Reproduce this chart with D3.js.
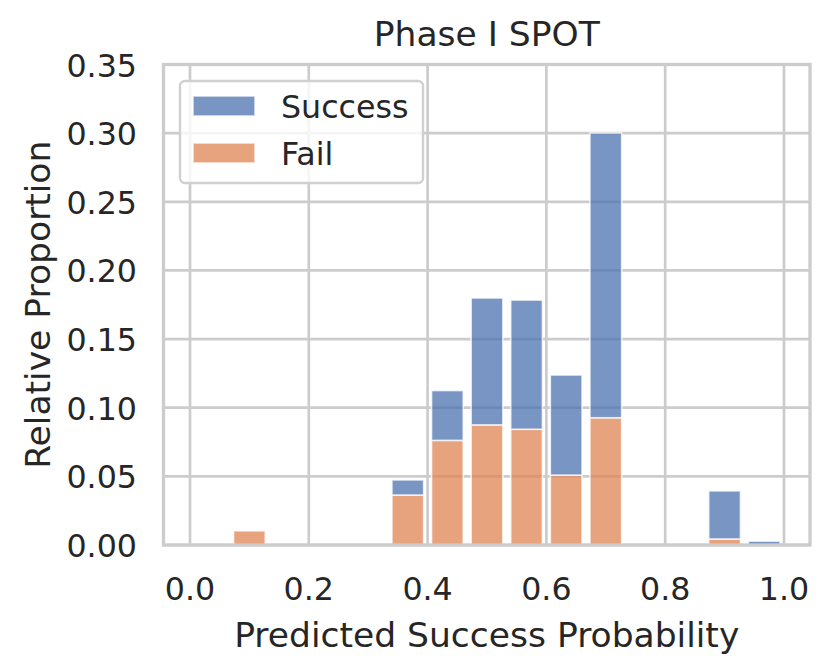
<!DOCTYPE html>
<html>
<head>
<meta charset="utf-8">
<script src="https://cdn.jsdelivr.net/npm/d3@7"></script>
<style>
  html, body { margin: 0; padding: 0; background: #ffffff; }
  svg { display: block; }
  text { font-family: "DejaVu Sans", sans-serif; fill: #262626; }
</style>
</head>
<body>
<script>
// ---- Data ----
const binEdges = [0, 1/15, 2/15, 3/15, 4/15, 5/15, 6/15, 7/15, 8/15, 9/15, 10/15, 11/15, 12/15, 13/15, 14/15, 1];
const failProp    = [0, 0.0103, 0, 0, 0, 0.0364, 0.0762, 0.0875, 0.0843, 0.0509, 0.0927, 0, 0, 0.0044, 0];
const successProp = [0, 0,      0, 0, 0, 0.0110, 0.0363, 0.0924, 0.0941, 0.0729, 0.2074, 0, 0, 0.0350, 0.0028];
const seriesNames = ["Success", "Fail"];
const xTicks = [0, 0.2, 0.4, 0.6, 0.8, 1.0];
const yTicks = [0, 0.05, 0.10, 0.15, 0.20, 0.25, 0.30, 0.35];
const titleText = "Phase I SPOT";
const xLabel = "Predicted Success Probability";
const yLabel = "Relative Proportion";

// ---- Layout ----
const W = 831, H = 670;
const L = 163.5, R = 810, T = 64.5, B = 545;
const colors = { Success: "#4C72B0", Fail: "#DD8452" };
const gridColor = "#cccccc";
const tickFont = 31.7, labelFont = 34.5;

const svg = d3.select("body").append("svg").attr("width", W).attr("height", H);
svg.append("rect").attr("width", W).attr("height", H).attr("fill", "#ffffff");

const x = d3.scaleLinear().domain([-0.0446, 1.0438]).range([L, R]);
const y = d3.scaleLinear().domain([0, 0.35]).range([B, T]);

// grid
const g = svg.append("g");
g.selectAll(".vg").data(xTicks).enter().append("line")
  .attr("x1", d => x(d)).attr("x2", d => x(d)).attr("y1", T).attr("y2", B)
  .attr("stroke", gridColor).attr("stroke-width", 2.7);
g.selectAll(".hg").data(yTicks).enter().append("line")
  .attr("x1", L).attr("x2", R).attr("y1", d => y(d)).attr("y2", d => y(d))
  .attr("stroke", gridColor).attr("stroke-width", 2.7);

// bars
const shrink = 0.8;
const bins = failProp.map((f, i) => ({
  x0: binEdges[i], x1: binEdges[i + 1], fail: f, success: successProp[i]
}));
const barG = svg.append("g");
function barX(d) { const c = (d.x0 + d.x1) / 2, w = (d.x1 - d.x0) * shrink; return [x(c - w / 2), x(c + w / 2)]; }
bins.forEach(d => {
  const [a, b] = barX(d);
  if (d.fail > 0) {
    barG.append("rect")
      .attr("x", a).attr("width", b - a)
      .attr("y", y(d.fail)).attr("height", y(0) - y(d.fail))
      .attr("fill", colors.Fail).attr("fill-opacity", 0.75)
      .attr("stroke", "#ffffff").attr("stroke-opacity", 0.75).attr("stroke-width", 1.6);
  }
  if (d.success > 0) {
    barG.append("rect")
      .attr("x", a).attr("width", b - a)
      .attr("y", y(d.fail + d.success)).attr("height", y(d.fail) - y(d.fail + d.success))
      .attr("fill", colors.Success).attr("fill-opacity", 0.75)
      .attr("stroke", "#ffffff").attr("stroke-opacity", 0.75).attr("stroke-width", 1.6);
  }
});

// spines
svg.append("rect").attr("x", L).attr("y", T).attr("width", R - L).attr("height", B - T)
  .attr("fill", "none").attr("stroke", gridColor).attr("stroke-width", 3.3);

// tick labels
svg.append("g").selectAll("text").data(xTicks).enter().append("text")
  .attr("x", d => x(d)).attr("y", 600)
  .attr("text-anchor", "middle").attr("font-size", tickFont)
  .text(d => d3.format(".1f")(d));
svg.append("g").selectAll("text").data(yTicks).enter().append("text")
  .attr("x", 137).attr("y", d => y(d) + 12)
  .attr("text-anchor", "end").attr("font-size", tickFont)
  .text(d => d3.format(".2f")(d));

// axis labels and title
svg.append("text").attr("x", (L + R) / 2).attr("y", 647)
  .attr("text-anchor", "middle").attr("font-size", labelFont).text(xLabel);
svg.append("text").attr("transform", `translate(50,${(T + B) / 2}) rotate(-90)`)
  .attr("text-anchor", "middle").attr("font-size", labelFont).text(yLabel);
svg.append("text").attr("x", (L + R) / 2).attr("y", 46)
  .attr("text-anchor", "middle").attr("font-size", labelFont).text(titleText);

// legend
const lg = svg.append("g");
lg.append("rect").attr("x", 180).attr("y", 81).attr("width", 243).attr("height", 102)
  .attr("rx", 5).attr("fill", "#ffffff").attr("fill-opacity", 0.8)
  .attr("stroke", "#d0d0d0").attr("stroke-width", 2.4);
const legY = [106, 153];
seriesNames.forEach((name, i) => {
  lg.append("rect").attr("x", 193).attr("y", legY[i] - 10).attr("width", 62).attr("height", 20)
    .attr("fill", colors[name]).attr("fill-opacity", 0.75)
    .attr("stroke", "#ffffff").attr("stroke-opacity", 0.75).attr("stroke-width", 1.6);
  lg.append("text").attr("x", 281).attr("y", legY[i] + 12)
    .attr("font-size", tickFont).text(name);
});
</script>
</body>
</html>
